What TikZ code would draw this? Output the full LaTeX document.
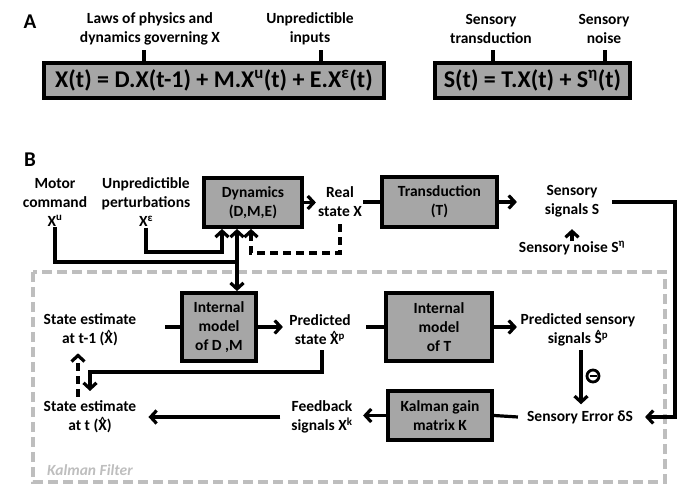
\documentclass[tikz,border=0pt]{standalone}
\usepackage{fontspec}
\setmainfont{Carlito}
\usetikzlibrary{arrows.meta}
\definecolor{boxgray}{RGB}{166,166,166}
\definecolor{kfgray}{RGB}{190,190,190}
\newcommand{\hatover}[1]{\leavevmode\ooalign{#1\cr\hidewidth\raisebox{0.36em}{\fontsize{12}{12}\selectfont\textasciicircum}\hidewidth\cr}}
\tikzset{
  lbl/.style={font=\bfseries\fontsize{15.5}{19}\selectfont, align=center, inner sep=1pt},
  blk/.style={draw, fill=boxgray, line width=3.8pt, inner sep=0pt, align=center,
              font=\bfseries\fontsize{15.5}{19}\selectfont},
  eq/.style={draw, fill=boxgray, line width=3.8pt, inner sep=0pt,
             font=\bfseries\fontsize{24}{28}\selectfont},
  con/.style={line width=3.2pt},
  arr/.style={line width=3.2pt, -{Straight Barb[length=6pt,width=13pt]}},
  dsh/.style={dash pattern=on 8pt off 5pt},
  kf/.style={draw=kfgray, line width=3.2pt, dash pattern=on 10pt off 5pt},
}
\begin{document}
\begin{tikzpicture}[x=1pt,y=-1pt]
\useasboundingbox (0,0) rectangle (699,502);
% ---------- Panel A ----------
\node[font=\bfseries\fontsize{21}{24}\selectfont] (A) at (30,22) {A};
\node[eq, minimum width=340pt, minimum height=35pt] (eqA) at (214,80.5)
  {X(t) = D.X(t-1) + M.X\textsuperscript{u}(t) + E.X\textsuperscript{ε}(t)};
\node[eq, minimum width=195pt, minimum height=35pt] (eqB) at (532.5,80.5)
  {S(t) = T.X(t) + S\textsuperscript{η}(t)};
\node[lbl] (laws) at (150,29) {Laws of physics and\\dynamics governing X};
\node[lbl] (uin) at (310,29) {Unpredictible\\inputs};
\node[lbl] (stra) at (491,29) {Sensory\\transduction};
\node[lbl] (snoi) at (604,29) {Sensory\\noise};
\draw[con] ([xshift=-70pt]eqA.north) -- ++(0,-11);
\draw[con] ([xshift=107pt]eqA.north) -- ++(0,-11);
\draw[con] ([xshift=-39.5pt]eqB.north) -- ++(0,-11);
\draw[con] ([xshift=72.5pt]eqB.north) -- ++(0,-11);
% ---------- Panel B ----------
\node[font=\bfseries\fontsize{21}{24}\selectfont] (B) at (30,160) {B};
\node[lbl] (motor) at (55,202) {Motor\\command\\X\textsuperscript{u}};
\node[lbl] (pert) at (146,202) {Unpredictible\\perturbations\\X\textsuperscript{ε}};
\node[blk, minimum width=98pt, minimum height=49pt] (dyn) at (253,202.5) {Dynamics\\(D,M,E)};
\node[lbl] (real) at (340,202) {Real\\state X};
\node[blk, minimum width=115pt, minimum height=50pt] (trans) at (439.5,202) {Transduction\\(T)};
\node[lbl] (sensS) at (572,201) {Sensory\\signals S};
\node[lbl] (noise) at (572,248) {Sensory noise S\textsuperscript{η}};
% Kalman filter frame
\draw[kf] (33,272) rectangle (665,482);
\node[font=\bfseries\itshape\fontsize{15.5}{19}\selectfont, text=kfgray, anchor=west, inner sep=0pt] (kfl) at (47,470) {Kalman Filter};
\node[blk, minimum width=74pt, minimum height=68pt] (imDM) at (219,327) {Internal\\model\\of D ,M};
\node[blk, minimum width=106pt, minimum height=68pt] (imT) at (439,327) {Internal\\model\\of T};
\node[blk, minimum width=104pt, minimum height=49pt] (kal) at (440,415.5) {Kalman gain\\matrix K};
\node[lbl] (se1) at (90,330) {State estimate\\at t-1 (\hatover{X})};
\node[lbl] (pred) at (320,330) {Predicted\\state \hatover{X}\textsuperscript{p}};
\node[lbl] (predS) at (578,330) {Predicted sensory\\signals \hatover{S}\textsuperscript{p}};
\node[lbl] (se0) at (90,417) {State estimate\\at t (\hatover{X})};
\node[lbl] (fb) at (322,417) {Feedback\\signals X\textsuperscript{k}};
\node[lbl] (err) at (580,417) {Sensory Error δS};
\node[circle, draw, line width=2.8pt, minimum size=12pt, inner sep=0pt] (minus) at (593,376) {};
\draw[line width=2.8pt] ([xshift=-3.5pt]minus.center) -- ([xshift=3.5pt]minus.center);
% coordinates
\coordinate (p1) at (222,252);
\coordinate (m1) at (237,262);
\coordinate (d1) at (251,253);
\coordinate (rc) at (675,202);
\coordinate (q1) at (90,372);
% connectors top row
\draw[arr] (dyn.east) -- ([xshift=-1pt]real.west |- dyn.east);
\draw[con] (real.east |- trans.west) -- (trans.west);
\draw[arr] (trans.east) -- ++(18,0);
\draw[arr] ([xshift=12pt]sensS.east |- rc) -- (rc) -- (rc |- err.east) -- ([xshift=11pt]err.east);
\draw[arr] ([yshift=-1pt]noise.north) -- ++(0,-12);
\draw[arr] (pert.south) |- (p1) -- (p1 |- dyn.south);
\draw[con] (motor.south) |- (m1);
\draw[arr] (m1) -- (m1 |- dyn.south);
\draw[arr] (m1) -- (m1 |- imDM.north);
\draw[arr, dsh] ([yshift=-6pt]real.south) |- (d1) -- (d1 |- dyn.south);
% Kalman internal
\draw[con] (imDM.west) -- ++(-15,0);
\draw[arr] (imDM.east) -- ++(25,0);
\draw[con] (imT.west) -- ++(-18,0);
\draw[arr] (imT.east) -- ++(23,0);
\draw[arr] ([xshift=2pt,yshift=-4pt]pred.south) |- (q1) -- ++(0,19);
\draw[arr, dsh] ([xshift=-12pt,yshift=3pt]se0.north) -- ([xshift=-12pt,yshift=-6pt]se1.south);
\draw[arr] ([xshift=3pt,yshift=-3pt]predS.south) -- ([xshift=1pt,yshift=5pt]err.north);
\draw[con] ([xshift=-8pt]err.west) -- (kal.east);
\draw[arr] (kal.west) -- ++(-23,0);
\draw[arr] ([xshift=-10pt]fb.west) -- ([xshift=11pt]se0.east);
\end{tikzpicture}
\end{document}
